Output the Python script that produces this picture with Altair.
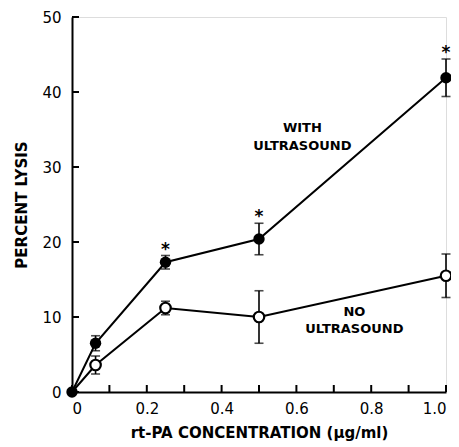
import altair as alt
import pandas as pd

conc = [0.0, 0.063, 0.25, 0.5, 1.0]
with_us = [0.0, 6.5, 17.3, 20.4, 41.9]
with_err = [0.0, 1.0, 0.9, 2.1, 2.5]
no_us = [0.0, 3.6, 11.2, 10.0, 15.5]
no_err = [0.0, 1.2, 0.9, 3.5, 2.9]
star_conc = [0.25, 0.5, 1.0]

y_ticks = [0, 10, 20, 30, 40, 50]
x_ticks = [0.0, 0.1, 0.2, 0.3, 0.4, 0.5, 0.6, 0.7, 0.8, 0.9, 1.0]
x_labels = [0.0, 0.2, 0.4, 0.6, 0.8, 1.0]

labels_txt = ["WITH", "ULTRASOUND", "NO", "ULTRASOUND"]
labels_x = [0.616, 0.616, 0.755, 0.755]
labels_y = [35.2, 32.8, 10.7, 8.4]

rows = []
for i, c in enumerate(conc):
    rows.append({"c": c, "v": with_us[i], "lo": with_us[i] - with_err[i], "hi": with_us[i] + with_err[i], "s": "with"})
for i, c in enumerate(conc):
    rows.append({"c": c, "v": no_us[i], "lo": no_us[i] - no_err[i], "hi": no_us[i] + no_err[i], "s": "no"})
df = pd.DataFrame(rows)
df_err = df[df["hi"] > df["lo"]]
stars = df[(df["s"] == "with") & (df["c"].isin(star_conc))]

FONT = "DejaVu Sans"
xs = alt.Scale(domain=[0, 1])
ys = alt.Scale(domain=[0, 50])

xenc = alt.X("c:Q", scale=xs, axis=alt.Axis(
    values=x_labels, tickSize=0, grid=False, domainColor="black", domainWidth=2,
    labelExpr="datum.value == 0 ? '0' : format(datum.value, '.1f')",
    labelFont=FONT, labelFontSize=15, labelColor="black", labelPadding=9,
    title="rt-PA  CONCENTRATION (μg/ml)", titleFont=FONT, titleFontSize=15,
    titleFontWeight="bold", titleColor="black", titlePadding=9))
yenc = alt.Y("v:Q", scale=ys, axis=alt.Axis(
    values=y_ticks, tickSize=0, grid=False, domainColor="black", domainWidth=2,
    labelFont=FONT, labelFontSize=15, labelColor="black", labelPadding=11,
    title="PERCENT  LYSIS", titleFont=FONT, titleFontSize=15,
    titleFontWeight="bold", titleColor="black", titlePadding=12))

base = alt.Chart(df)

lines = base.mark_line(color="black", strokeWidth=2).encode(
    x=xenc, y=yenc, detail="s:N")

err = alt.Chart(df_err).mark_rule(color="black", strokeWidth=1.6).encode(
    x=alt.X("c:Q", scale=xs), y=alt.Y("lo:Q", scale=ys), y2="hi:Q")
cap_hi = alt.Chart(df_err).mark_tick(color="black", thickness=1.6, size=9, orient="horizontal").encode(
    x=alt.X("c:Q", scale=xs), y=alt.Y("hi:Q", scale=ys))
cap_lo = alt.Chart(df_err).mark_tick(color="black", thickness=1.6, size=9, orient="horizontal").encode(
    x=alt.X("c:Q", scale=xs), y=alt.Y("lo:Q", scale=ys))

pts_with = alt.Chart(df[df["s"] == "with"]).mark_point(
    shape="circle", filled=True, color="black", size=130, opacity=1).encode(
    x=alt.X("c:Q", scale=xs), y=alt.Y("v:Q", scale=ys))
pts_no = alt.Chart(df[(df["s"] == "no") & (df["c"] > 0)]).mark_point(
    shape="circle", filled=False, stroke="black", fill="white", fillOpacity=1,
    strokeWidth=2.2, size=110, opacity=1).encode(
    x=alt.X("c:Q", scale=xs), y=alt.Y("v:Q", scale=ys))

star = alt.Chart(stars).mark_text(text="*", font=FONT, fontSize=17, fontWeight="bold",
                                  color="black", baseline="middle", dy=-6).encode(
    x=alt.X("c:Q", scale=xs), y=alt.Y("hi:Q", scale=ys))

ytick_df = pd.DataFrame({"t": y_ticks})
yt = alt.Chart(ytick_df).mark_rule(color="black", strokeWidth=2).encode(
    y=alt.Y("t:Q", scale=ys), x=alt.value(0), x2=alt.value(7))
xtick_df = pd.DataFrame({"t": x_ticks})
xt = alt.Chart(xtick_df).mark_rule(color="black", strokeWidth=2).encode(
    x=alt.X("t:Q", scale=xs), y=alt.value(375), y2=alt.value(368))

lab_df = pd.DataFrame({"t": labels_txt, "x": labels_x, "y": labels_y})
labs = alt.Chart(lab_df).mark_text(font=FONT, fontSize=13, fontWeight="bold",
                                   color="black", baseline="middle", align="center").encode(
    x=alt.X("x:Q", scale=xs), y=alt.Y("y:Q", scale=ys), text="t:N")

chart = alt.layer(lines, yt, xt, err, cap_hi, cap_lo, pts_no, pts_with, star, labs).properties(
    width=374, height=375,
    autosize=alt.AutoSizeParams(type="none"),
    padding={"left": 64, "top": 9, "right": 5, "bottom": 55},
).configure_view(stroke=None).configure(background="white")

chart.save("out.html", embed_options={"renderer": "svg", "actions": False})
